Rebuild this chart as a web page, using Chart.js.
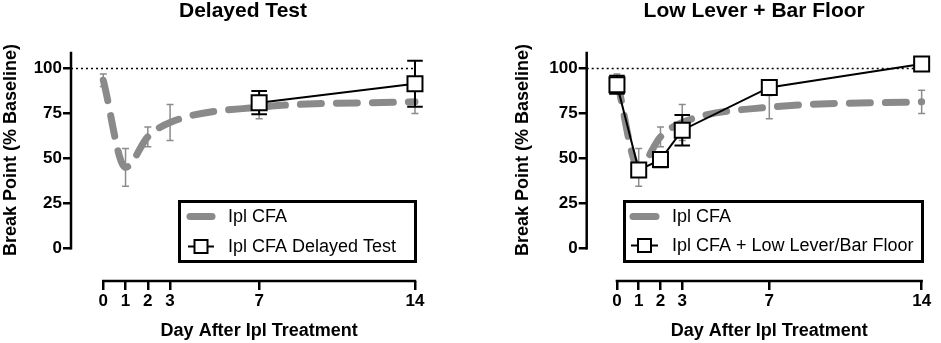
<!DOCTYPE html>
<html>
<head>
<meta charset="utf-8">
<script src="https://cdn.jsdelivr.net/npm/chart.js@4.4.1/dist/chart.umd.min.js"></script>
<style>
  body { margin: 0; background: #fff; }
  canvas { position: absolute; top: 0; }
</style>
</head>
<body>
<canvas id="left" width="470" height="343" style="left:0"></canvas>
<canvas id="right" width="471" height="343" style="left:470px"></canvas>
<script>
// values (% of baseline, mean and error)
const days = [0, 1, 2, 3, 7, 14];
const cfaMean = [93.5, 45, 62, 70, 78.5, 81.5];
const cfaErr = [3.5, 10.5, 5.5, 10, 6.5, 6.5];
const delayedDays = [7, 14];
const delayedMean = [81, 91.5];
const delayedErr = [6.5, 12.8];
const leverMean = [91, 43.5, 49.3, 65.7, 89.5, 102.5];
const leverErr = [5, 3, 4.3, 8.5, 3, 1.5];
const yTicks = [0, 25, 50, 75, 100];
const xTicks = [0, 1, 2, 3, 7, 14];
const baseline = 100;

const FONT = "'Liberation Sans', Arial, sans-serif";

const points = (xs, ys) => xs.map((d, i) => ({ x: d, y: ys[i] }));

const cfaSet = () => ({
  label: 'Ipl CFA',
  data: points(days, cfaMean),
  borderColor: '#8a8a8a',
  borderWidth: 7,
  borderDash: [21, 15],
  borderCapStyle: 'round',
  cubicInterpolationMode: 'monotone',
  pointRadius: 0,
  clip: false,
  order: 1,
  err: cfaErr, errColor: '#8c8c8c', errWidth: 1.5, errCap: 3.5,
  kind: 'dash'
});

const squareSet = (label, xs, ys, err) => ({
  label: label,
  data: points(xs, ys),
  borderColor: '#000',
  borderWidth: 2,
  tension: 0,
  pointStyle: 'rect',
  pointRadius: 10.6,
  pointBackgroundColor: '#fff',
  pointBorderColor: '#000',
  pointBorderWidth: 2,
  clip: false,
  order: 0,
  err: err, errColor: '#000', errWidth: 2, errCap: 7.8,
  kind: 'square'
});

// error bars, baseline, offset axes, titles and boxed legend
const decor = {
  id: 'decor',
  beforeDatasetsDraw(chart) {
    const { ctx, chartArea } = chart;
    const { x, y } = chart.scales;
    const py = y.getPixelForValue(baseline);
    ctx.save();
    ctx.setLineDash([2, 3]);
    ctx.lineWidth = 1.5;
    ctx.strokeStyle = '#000';
    ctx.beginPath();
    ctx.moveTo(chartArea.left, py);
    ctx.lineTo(x.getPixelForValue(14), py);
    ctx.stroke();
    ctx.restore();
  },
  beforeDatasetDraw(chart, args) {
    const ds = chart.data.datasets[args.index];
    if (!ds.err) return;
    const { ctx } = chart;
    const { x, y } = chart.scales;
    ctx.save();
    ctx.strokeStyle = ds.errColor;
    ctx.lineWidth = ds.errWidth;
    ds.data.forEach((p, i) => {
      const px = x.getPixelForValue(p.x);
      const top = y.getPixelForValue(p.y + ds.err[i]);
      const bot = y.getPixelForValue(p.y - ds.err[i]);
      ctx.beginPath();
      ctx.moveTo(px, top); ctx.lineTo(px, bot);
      ctx.moveTo(px - ds.errCap, top); ctx.lineTo(px + ds.errCap, top);
      ctx.moveTo(px - ds.errCap, bot); ctx.lineTo(px + ds.errCap, bot);
      ctx.stroke();
    });
    ctx.restore();
  },
  afterDraw(chart, args, opts) {
    const { ctx, chartArea } = chart;
    const { x, y } = chart.scales;
    const x0 = x.getPixelForValue(0), x14 = x.getPixelForValue(14);
    ctx.save();
    ctx.strokeStyle = '#000';
    ctx.lineWidth = 2.5;
    ctx.beginPath();
    ctx.moveTo(chartArea.left, chartArea.top);
    ctx.lineTo(chartArea.left, y.getPixelForValue(0) + 1.25);
    ctx.moveTo(x0 - 1.25, chartArea.bottom);
    ctx.lineTo(x14 + 1.25, chartArea.bottom);
    ctx.stroke();

    ctx.fillStyle = '#000';
    ctx.textAlign = 'center';
    ctx.textBaseline = 'middle';
    ctx.font = 'bold 21px ' + FONT;
    ctx.fillText(opts.title, (chartArea.left + x14) / 2, 11);
    ctx.font = 'bold 18px ' + FONT;
    ctx.fillText('Day After Ipl Treatment', (x0 + x14) / 2, 331);
    ctx.save();
    ctx.translate(opts.yTitleX, (chartArea.top + y.getPixelForValue(0)) / 2);
    ctx.rotate(-Math.PI / 2);
    ctx.fillText('Break Point (% Baseline)', 0, 0);
    ctx.restore();

    const lg = opts.legend;
    ctx.lineWidth = 3;
    ctx.strokeRect(lg.x, lg.y, lg.w, lg.h);
    ctx.font = '18px ' + FONT;
    ctx.textAlign = 'left';
    const sets = chart.data.datasets.slice().sort((a, b) => b.order - a.order);
    sets.forEach((ds, i) => {
      const ry = lg.rows[i];
      ctx.beginPath();
      if (ds.kind === 'dash') {
        ctx.strokeStyle = ds.borderColor;
        ctx.lineWidth = ds.borderWidth;
        ctx.lineCap = 'round';
        ctx.moveTo(lg.s1 + 2, ry); ctx.lineTo(lg.s2 - 2, ry);
        ctx.stroke();
      } else {
        ctx.strokeStyle = '#000';
        ctx.lineWidth = 2;
        ctx.lineCap = 'butt';
        ctx.moveTo(lg.s1, ry); ctx.lineTo(lg.s2, ry);
        ctx.stroke();
        const cx = (lg.s1 + lg.s2) / 2;
        ctx.fillStyle = '#fff';
        ctx.fillRect(cx - 6.5, ry - 6.5, 13, 13);
        ctx.strokeRect(cx - 6.5, ry - 6.5, 13, 13);
      }
      ctx.fillStyle = '#000';
      ctx.fillText(ds.label, lg.tx, ry + 1);
    });
    ctx.restore();
  }
};

function panel(id, p) {
  return new Chart(document.getElementById(id), {
    type: 'line',
    data: { datasets: p.datasets },
    options: {
      responsive: false,
      animation: false,
      devicePixelRatio: 1,
      layout: { padding: { top: 51.7, right: p.padRight, left: 0, bottom: 0 } },
      plugins: {
        legend: { display: false },
        tooltip: { enabled: false },
        decor: { title: p.title, yTitleX: p.yTitleX, legend: p.legend }
      },
      scales: {
        x: {
          type: 'linear',
          min: p.xMin,
          max: p.xMax,
          afterBuildTicks: s => { s.ticks = xTicks.map(v => ({ value: v })); },
          afterFit: s => { s.height = 62; },
          border: { display: false },
          grid: { drawOnChartArea: false, drawTicks: true, tickLength: 9, lineWidth: 2.5, color: '#000' },
          ticks: { autoSkip: false, maxRotation: 0, padding: 1.5, color: '#000',
                   font: { family: FONT, size: 17, weight: 'bold' } }
        },
        y: {
          min: -18.3,
          max: 109.4,
          afterBuildTicks: s => { s.ticks = yTicks.map(v => ({ value: v })); },
          afterFit: s => { s.width = p.yWidth; },
          border: { display: false },
          grid: { drawOnChartArea: false, drawTicks: true, tickLength: 8, lineWidth: 2.5, color: '#000' },
          ticks: { padding: 1, color: '#000', font: { family: FONT, size: 17, weight: 'bold' } }
        }
      }
    },
    plugins: [decor]
  });
}

panel('left', {
  title: 'Delayed Test',
  datasets: [cfaSet(), squareSet('Ipl CFA Delayed Test', delayedDays, delayedMean, delayedErr)],
  padRight: 45, yWidth: 71, xMin: -1.45, xMax: 14.45, yTitleX: 11,
  legend: { x: 179.5, y: 201.5, w: 236, h: 60, s1: 188, s2: 214, tx: 228, rows: [216.5, 246.5] }
});

panel('right', {
  title: 'Low Lever + Bar Floor',
  datasets: [cfaSet(), squareSet('Ipl CFA + Low Lever/Bar Floor', days, leverMean, leverErr)],
  padRight: 4, yWidth: 116.7, xMin: -1.39, xMax: 14.31, yTitleX: 53,
  legend: { x: 154.5, y: 201.5, w: 298, h: 60, s1: 161, s2: 188, tx: 202, rows: [216.5, 245.5] }
});
</script>
</body>
</html>
